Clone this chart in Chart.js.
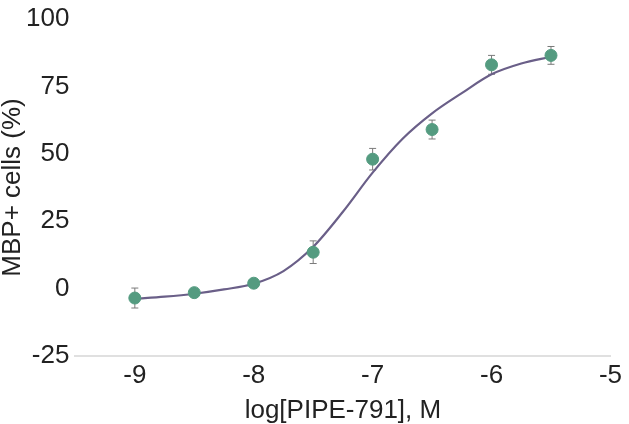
<!DOCTYPE html>
<html>
<head>
<meta charset="utf-8">
<script src="https://cdn.jsdelivr.net/npm/chart.js@4.4.1/dist/chart.umd.min.js"></script>
<style>
  html, body { margin: 0; padding: 0; background: #fff; }
  #wrap { width: 629px; height: 424px; }
</style>
</head>
<body>
<div id="wrap"><canvas id="doseChart"></canvas></div>
<script>
// measured points (log M, % MBP+ cells, SEM)
const logDose = [-9, -8.5, -8, -7.5, -7, -6.5, -6, -5.5];
const mbpPct = [-3.5, -1.5, 2, 13.5, 48, 59, 83, 86.5];
const mbpErr = [3.7, 1, 1, 4.2, 4, 3.5, 3.5, 3.3];

// fitted curve
const fitX = [-9, -8.75, -8.5, -8.25, -8, -7.75, -7.5, -7.25, -7, -6.75, -6.5, -6.25, -6, -5.75, -5.5];
const fitY = [-3.8, -3.0, -1.9, -0.3, 1.8, 6.5, 15.5, 28.5, 43, 55.5, 65, 72.5, 79.5, 83.5, 86];

const xTicks = [-9, -8, -7, -6, -5];
const yTicks = [-25, 0, 25, 50, 75, 100];

const pointColor = '#549b80';
const curveColor = '#6a5f88';
const font = "'Liberation Sans', Arial, sans-serif";

// error bars drawn under the markers
const errorBars = {
    id: 'errorBars',
    beforeDatasetsDraw(chart) {
        const { ctx, scales: { x, y } } = chart;
        ctx.save();
        ctx.strokeStyle = '#7a7a7a';
        ctx.lineWidth = 1;
        logDose.forEach((d, i) => {
            const px = x.getPixelForValue(d);
            const top = y.getPixelForValue(mbpPct[i] + mbpErr[i]);
            const bot = y.getPixelForValue(mbpPct[i] - mbpErr[i]);
            ctx.beginPath();
            ctx.moveTo(px, top); ctx.lineTo(px, bot);
            ctx.moveTo(px - 3.5, top); ctx.lineTo(px + 3.5, top);
            ctx.moveTo(px - 3.5, bot); ctx.lineTo(px + 3.5, bot);
            ctx.stroke();
        });
        ctx.restore();
    }
};

new Chart(document.getElementById('doseChart'), {
    type: 'scatter',
    data: {
        datasets: [{
            label: 'data',
            data: logDose.map((d, i) => ({ x: d, y: mbpPct[i] })),
            backgroundColor: pointColor,
            borderColor: pointColor,
            pointRadius: 6,
            showLine: false
        }, {
            label: 'fit',
            data: fitX.map((d, i) => ({ x: d, y: fitY[i] })),
            showLine: true,
            borderColor: curveColor,
            borderWidth: 2.2,
            pointRadius: 0,
            cubicInterpolationMode: 'monotone'
        }]
    },
    options: {
        responsive: true,
        maintainAspectRatio: false,
        animation: false,
        layout: { padding: { top: 4, right: 0, bottom: 0, left: 0 } },
        plugins: {
            legend: { display: false },
            tooltip: { enabled: false }
        },
        scales: {
            x: {
                type: 'linear',
                min: -9.5,
                max: -5,
                afterBuildTicks: (axis) => { axis.ticks = xTicks.map(v => ({ value: v })); },
                grid: { display: false, drawTicks: false },
                border: { display: true, color: '#e0e0e0', width: 2 },
                ticks: { color: '#222', padding: 7, font: { family: font, size: 26, lineHeight: 1 } },
                title: {
                    display: true,
                    text: 'log[PIPE-791], M',
                    color: '#222',
                    padding: { top: 2, bottom: 0 },
                    font: { family: font, size: 26, lineHeight: 1 }
                }
            },
            y: {
                min: -25,
                max: 100,
                afterBuildTicks: (axis) => { axis.ticks = yTicks.map(v => ({ value: v })); },
                grid: { display: false, drawTicks: false },
                border: { display: false },
                ticks: { color: '#222', padding: 6, font: { family: font, size: 26, lineHeight: 1 } },
                title: {
                    display: true,
                    text: 'MBP+ cells (%)',
                    color: '#222',
                    padding: { top: 0, bottom: -6 },
                    font: { family: font, size: 26, lineHeight: 1 }
                }
            }
        }
    },
    plugins: [errorBars]
});
</script>
</body>
</html>
